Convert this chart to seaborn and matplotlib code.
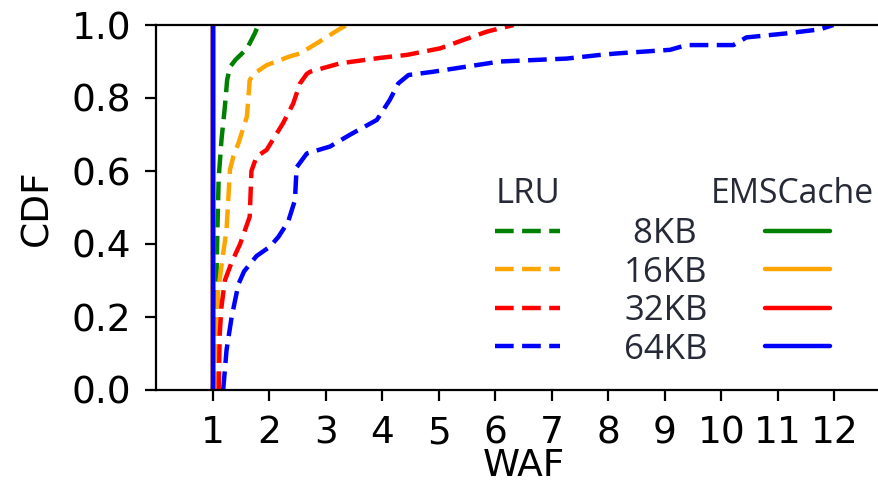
import matplotlib
matplotlib.use("Agg")
import matplotlib.pyplot as plt
import seaborn as sns
import numpy as np
import pandas as pd

# ---------------- data ----------------
sizes = ["8KB", "16KB", "32KB", "64KB"]
colors = ["green", "orange", "red", "blue"]

lru8_waf = [1.00, 1.03, 1.06, 1.08, 1.10, 1.15, 1.21, 1.25, 1.30, 1.40, 1.60, 1.74, 1.80]
lru8_cdf = [0.00, 0.15, 0.30, 0.45, 0.58, 0.685, 0.776, 0.849, 0.885, 0.905, 0.935, 0.977, 1.00]

lru16_waf = [1.02, 1.07, 1.09, 1.15, 1.24, 1.30, 1.36, 1.45, 1.60, 1.65, 1.71, 1.95, 2.36, 2.54, 2.89, 3.25, 3.37]
lru16_cdf = [0.00, 0.09, 0.27, 0.34, 0.44, 0.603, 0.64, 0.676, 0.749, 0.849, 0.865, 0.89, 0.914, 0.922, 0.955, 0.99, 1.00]

lru32_waf = [1.10, 1.12, 1.15, 1.21, 1.33, 1.48, 1.65, 1.68, 1.77, 1.95, 2.24, 2.42, 2.54, 2.66, 2.72,
             3.25, 3.96, 4.43, 5.02, 5.43, 5.85, 6.32]
lru32_cdf = [0.00, 0.155, 0.228, 0.30, 0.35, 0.40, 0.475, 0.60, 0.639, 0.658, 0.731, 0.785, 0.840, 0.866, 0.872,
             0.895, 0.91, 0.918, 0.936, 0.959, 0.982, 1.00]

lru64_waf = [1.18, 1.24, 1.33, 1.45, 1.55, 1.77, 2.01, 2.16, 2.33, 2.45, 2.48, 2.66, 3.07, 3.42, 3.90, 4.13,
             4.28, 4.46, 4.90, 5.49, 6.08, 6.67, 7.26, 7.85, 8.14, 9.09, 9.38, 10.21, 10.44, 11.15, 11.74, 11.98]
lru64_cdf = [0.00, 0.11, 0.20, 0.29, 0.325, 0.367, 0.393, 0.42, 0.461, 0.52, 0.61, 0.648, 0.667, 0.699, 0.740, 0.795,
             0.84, 0.863, 0.872, 0.886, 0.90, 0.904, 0.908, 0.918, 0.922, 0.932, 0.945, 0.945, 0.966, 0.977, 0.988, 1.00]

ems8_waf, ems8_cdf = [1.0, 1.0], [0.0, 1.0]
ems16_waf, ems16_cdf = [1.0, 1.0], [0.0, 1.0]
ems32_waf, ems32_cdf = [1.0, 1.0], [0.0, 1.0]
ems64_waf, ems64_cdf = [1.0, 1.0], [0.0, 1.0]

x_ticks = list(range(1, 13))
y_ticks = [0.0, 0.2, 0.4, 0.6, 0.8, 1.0]

lru_series = [(lru8_waf, lru8_cdf), (lru16_waf, lru16_cdf), (lru32_waf, lru32_cdf), (lru64_waf, lru64_cdf)]
ems_series = [(ems8_waf, ems8_cdf), (ems16_waf, ems16_cdf), (ems32_waf, ems32_cdf), (ems64_waf, ems64_cdf)]

# ---------------- style ----------------
sns.set_style("ticks")
plt.rcParams["font.family"] = ["DejaVu Sans"]
plt.rcParams["axes.edgecolor"] = "black"
plt.rcParams["xtick.color"] = "black"
plt.rcParams["ytick.color"] = "black"
plt.rcParams["text.color"] = "black"
plt.rcParams["axes.labelcolor"] = "black"

fig = plt.figure(figsize=(8.79, 4.84), dpi=100)
ax = fig.add_axes([156.5 / 879, 94 / 484, 734.5 / 879, 365 / 484])

lru_lines, ems_lines = [], []
for (w, c), col in zip(lru_series, colors):
    sns.lineplot(x=w, y=c, ax=ax, color=col, sort=False, estimator=None, linewidth=3.2,
                 dashes=False)
    ln = ax.lines[-1]
    ln.set_dashes((4.2, 1.9))
    lru_lines.append(ln)
for (w, c), col in zip(ems_series, colors):
    sns.lineplot(x=w, y=c, ax=ax, color=col, sort=False, estimator=None, linewidth=3.2, linestyle="-")
    ems_lines.append(ax.lines[-1])

ax.set_xlim(0, 13)
ax.set_ylim(0, 1)
ax.set_xticks(x_ticks)
ax.set_xticklabels([str(t) for t in x_ticks])
ax.set_yticks(y_ticks)
ax.set_yticklabels([f"{t:.1f}" for t in y_ticks])
ax.tick_params(axis="both", labelsize=27, length=8, width=1.6, pad=10, direction="out")
ax.set_xlabel("WAF", fontsize=27, labelpad=-2)
ax.set_ylabel("CDF", fontsize=27, labelpad=12)
for s in ax.spines.values():
    s.set_linewidth(1.6)
ax.spines["right"].set_visible(False)

# ---------------- legend ----------------
txt_col = "#262a36"
fp = {"family": "Open Sans", "size": 25}
fp_head = {"family": "Open Sans", "size": 24.3}
fig.text(496 / 879, 1 - 203 / 484, "LRU", fontdict=fp, color=txt_col, ha="left", va="baseline")
fig.text(711 / 879, 1 - 203 / 484, "EMSCache", fontdict=fp_head, color=txt_col, ha="left", va="baseline")

leg_top = 1 - 217 / 484
leg1 = fig.legend(lru_lines, [" 8KB", "16KB", "32KB", "64KB"],
                  loc="upper left", bbox_to_anchor=(495 / 879, leg_top), bbox_transform=fig.transFigure,
                  frameon=False, prop=fp, handlelength=1.87, handletextpad=1.85, labelspacing=0.13,
                  borderpad=0, borderaxespad=0, labelcolor=txt_col)
leg2 = fig.legend(ems_lines, ["", "", "", ""],
                  loc="upper left", bbox_to_anchor=(765 / 879, leg_top), bbox_transform=fig.transFigure,
                  frameon=False, prop=fp, handlelength=1.87, handletextpad=0.0, labelspacing=0.13,
                  borderpad=0, borderaxespad=0, labelcolor=txt_col)

fig.savefig("out.png", dpi=100)
